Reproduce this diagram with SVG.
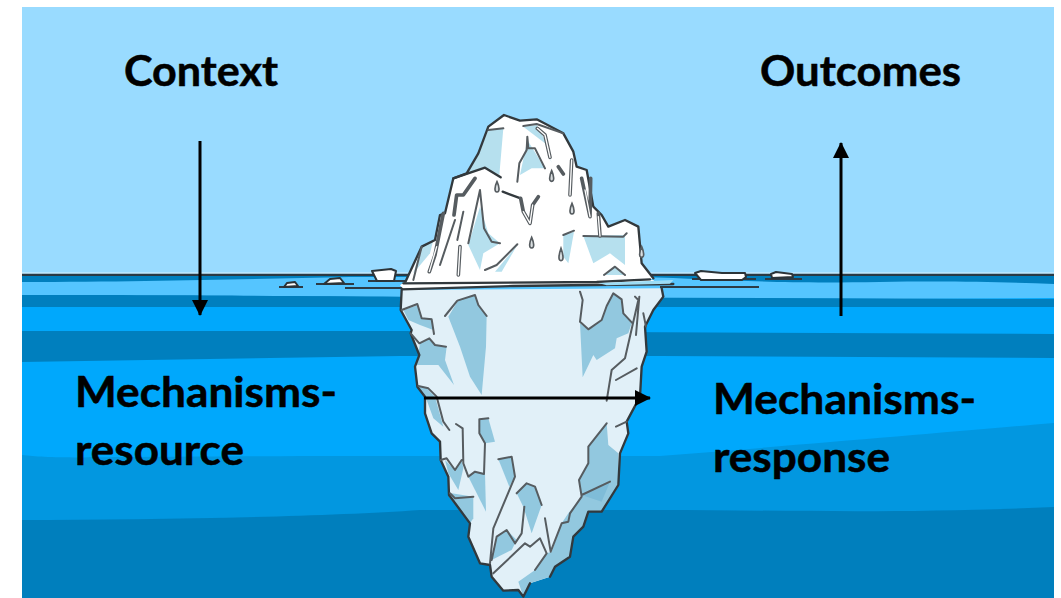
<svg xmlns="http://www.w3.org/2000/svg" width="1061" height="598" viewBox="0 0 1061 598">
<defs>
<marker id="ah" markerUnits="userSpaceOnUse" markerWidth="16" markerHeight="16" refX="15" refY="8" orient="auto"><path d="M0,0 L16,8 L0,16 Z" fill="#000"/></marker>
</defs>
<style>
text{font-family:Lato,"Open Sans",sans-serif;font-weight:700;font-size:42px;fill:#000;stroke:#000;stroke-width:.5px}
.l{fill:none;stroke:#32393d;stroke-width:7;stroke-linejoin:round;stroke-linecap:round}
.g{fill:none;stroke:#565c60;stroke-width:6;stroke-linejoin:round;stroke-linecap:round}
.dr{fill:none;stroke:#565c60;stroke-width:11;stroke-linejoin:round;stroke-linecap:round}
.dw{fill:none;stroke:#fff;stroke-width:4;stroke-linejoin:round;stroke-linecap:round}
.s{fill:#b6e0ee}
.u{fill:#92c8df}
.d{fill:#d9dee0;stroke:#565c60;stroke-width:5}
.f{fill:#fff;stroke:#2c3438;stroke-width:2;stroke-linejoin:round}
.w{stroke:#2c3b45;stroke-width:2;fill:none}
.c{fill:none;stroke:#000;stroke-width:3;marker-end:url(#ah)}
</style>
<rect width="1061" height="598" fill="#fff"/>
<g id="scene">
<rect x="22" y="7" width="1032" height="268" fill="#99dbff"/>
<rect x="22" y="274" width="1032" height="324" fill="#00a8fc"/>
<path d="M22,276 H1054 V298 C950,296 880,296 840,298 H22 Z" fill="#007fbe"/>
<path d="M22,282 C150,282 250,279 350,277 H640 C720,279 760,284 880,282 C950,281 1000,282 1054,284 V298 L900,299 L22,295 Z" fill="#55c5ff"/>
<path d="M22,295 C200,295 300,296 400,297 L1054,299 V307 H22 Z" fill="#007fbe"/>
<path d="M22,331 H400 L1054,334 V358 L660,356 H400 L22,362 Z" fill="#007fbe"/>
<path d="M22,455 C40,457 60,458 120,457 C250,456 350,456 420,456 H660 C800,445 950,432 1054,423 V598 H22 Z" fill="#0297e0"/>
<path d="M22,520 C150,520 320,517 420,510 H660 C780,510 900,514 1054,507 V598 H22 Z" fill="#007fbd"/>
<rect x="22" y="273.500" width="1032" height="2.500" fill="#2b3a44"/>
<rect x="22" y="272.500" width="1032" height="1" fill="#d8f2ff"/>
</g>
<g id="floes">
<path class="w" d="M345,288 H420 M660,287 H759"/>
<path class="w" d="M279,287 H303 M316,284 H354 M368,281 H420 M692,279 H756 M765,279 H802"/>
<path class="f" d="M284,287 L287,283 L295,282 L298,286 Z"/>
<path class="f" d="M324,284 L330,279 L340,278 L344,283 Z"/>
<path class="f" d="M372,271 L391,269 L396,271 L394,281 L377,281 Z"/>
<path class="f" d="M695,273 L701,271 L722,273 L745,273 L746,277 L742,280 L701,280 Z"/>
<path class="f" d="M771,274 L776,272 L792,274 L793,277 L772,278 Z"/>
</g>
<g id="iceberg-below" transform="translate(380,280) scale(.33333)">
<path d="M65,30 L62,90 L95,150 L92,160 L118,225 L105,260 L112,320 L135,350 L135,400 L155,460 L180,485 L182,540 L205,590 L207,645 L270,730 L265,770 L300,850 L330,855 L335,890 L370,932 L415,930 L430,950 L450,910 L510,890 L525,860 L570,830 L580,770 L610,740 L625,695 L665,695 L715,615 L720,520 L745,460 L740,425 L780,350 L785,260 L800,215 L795,140 L820,90 L850,50 L845,25 Z" fill="#e1f0f8"/>
<path class="u" d="M205,110 L235,60 L285,45 L295,75 L320,105 L318,200 L305,345 L270,290 L240,200 Z"/>
<path class="u" d="M70,90 L115,75 L125,115 L155,115 L160,150 L120,135 L85,120 Z"/>
<path class="u" d="M120,190 L150,175 L165,195 L200,200 L195,240 L222,315 L175,255 L110,255 Z"/>
<path class="u" d="M600,130 L625,150 L665,120 L680,75 L700,40 L725,60 L730,100 L755,130 L745,160 L710,175 L705,205 L650,240 L640,225 L608,292 Z"/>
<path class="u" d="M115,318 L140,325 L165,350 L190,440 L160,415 L140,360 Z"/>
<path class="u" d="M298,418 L325,415 L345,485 L315,490 L298,460 Z"/>
<path class="u" d="M355,538 L395,530 L405,590 L388,620 Z"/>
<path class="u" d="M195,540 L225,570 L245,540 L250,565 L235,630 L205,580 Z"/>
<path class="u" d="M265,590 L285,575 L315,580 L318,695 Z"/>
<path class="u" d="M215,640 L280,650 L280,715 L270,730 L207,650 Z"/>
<path class="u" d="M410,640 L440,610 L465,620 L485,675 L455,760 L430,680 Z"/>
<path class="u" d="M335,840 L350,770 L380,750 L410,780 L395,810 Z"/>
<path class="u" d="M625,500 L680,430 L685,495 L715,520 L715,615 L665,695 L625,695 L610,740 L580,770 L570,830 L525,860 L510,890 L450,910 L430,950 L415,905 L465,870 L500,820 L515,815 L545,730 L565,700 L605,650 L597,600 L625,550 Z"/>
<path d="M605,645 L690,605 L665,665 Z" fill="#7fbcd8"/>
<path class="l" d="M65,30 L62,90 L95,150 L92,160 L118,225 L105,260 L112,320 L135,350 L135,400 L155,460 L180,485 L182,540 L205,590 L207,645 L270,730 L265,770 L300,850 L330,855 L335,890 L370,932 L415,930 L430,950 L450,910 M510,890 L525,860 L570,830 L580,770 L610,740 L625,695 L665,695 L715,615 L720,520 L745,460 L740,425 L780,350 L785,260 L800,215 L795,140 L820,90 L850,50 L845,25"/>
<path class="g" d="M195,108 L232,62 L285,45 L295,75 L320,108 M65,90 L112,72 L125,115 L155,118 L162,162 M92,160 L118,190 L148,175 L165,195 L198,200 M600,35 L608,60 L600,125 L625,148 L665,120 L680,78 L700,40 L725,58 L730,100 L758,130 M778,50 L768,165 M765,50 L775,60 L760,125 L735,235 L695,270 L680,362 M708,300 L770,265 M790,100 L798,140 M115,318 L145,325 L170,350 L190,425 L208,450 M228,432 L248,445 L250,550 L265,590 L285,575 L312,582 L315,490 L298,460 L298,418 L325,415 M182,540 L200,535 L225,570 L245,540 M210,640 L225,655 L280,650 M355,538 L395,530 L405,590 L340,745 L330,850 M410,640 L440,610 L465,620 L485,675 M433,680 L425,760 L405,790 L380,750 L350,770 L335,840 M340,880 L435,790 L450,800 L480,775 L500,820 L465,870 M495,715 L512,815 L545,730 L565,725 L570,700 L605,650 L597,600 L625,550 L625,500 L680,430 M605,645 L690,605 M708,440 L740,425"/>
</g>
<g id="iceberg-above" transform="translate(380,100) scale(.33333)">
<path d="M75,548 L125,440 L165,420 L180,345 L195,340 L220,235 L260,220 L295,160 L325,80 L372,45 L420,62 L470,58 L550,100 L580,155 L590,200 L620,210 L640,320 L665,345 L685,380 L735,360 L775,380 L785,490 L820,535 L800,545 L200,548 Z" fill="#fff"/>
<path class="s" d="M262,220 L295,165 L325,90 L370,85 L358,225 L315,205 Z"/>
<path class="s" d="M430,80 L470,75 L500,130 L515,190 L495,130 Z"/>
<path class="s" d="M420,225 L442,120 L495,205 L455,205 Z"/>
<path class="s" d="M265,435 L300,320 L325,400 L360,430 L310,460 L300,510 Z"/>
<path class="s" d="M610,408 L735,405 L735,495 L690,460 L640,490 Z"/>
<path class="s" d="M550,405 L582,395 L565,490 L550,470 Z"/>
<path class="s" d="M345,515 L412,435 L365,515 Z"/>
<path class="s" d="M672,525 L705,500 L735,525 Z"/>
<path class="s" d="M160,420 L125,440 L100,520 L150,460 Z"/>
<path class="l" d="M75,548 L125,440 L165,420 L180,345 L195,340 L220,235 L260,220 L295,160 L325,80 L372,45 L420,62 L470,58 L550,100 L580,155 L590,200 L620,210 L640,320 L665,345 L685,380 L735,360 L775,380 L785,490 L820,535"/>
<path class="l" d="M220,235 L315,203 L362,232 M368,275 L422,295"/>
<path class="g" d="M325,90 L370,85 M430,78 L470,72 L550,100 M412,245 L418,190 L440,150 L442,110 L445,145 L465,145 L495,205 M550,405 L582,392 M610,408 L730,410 L740,400 M265,430 L300,270 L312,385 L335,425 L360,430 M315,510 L350,495 L412,433 M250,335 L232,420 M225,360 L180,495 M672,525 L705,500 L735,525 M125,440 L100,540"/>
<path class="dr" d="M472,85 L495,105 L510,172 M535,200 L550,222 M575,180 L570,285 M605,235 L630,350 L632,235 M655,340 L660,408 M422,295 L430,335 L450,370 L458,315 L475,290 M285,235 L250,285 L230,285 L222,345 M240,440 L235,525 M190,340 L165,465 L148,515"/>
<path class="dw" d="M472,85 L495,105 L510,172 M575,180 L570,285 M615,270 L630,350 M430,335 L450,370 L458,315 M240,440 L235,525 M170,440 L148,515 M655,350 L660,408"/>
<path class="d" d="M351,245 C358,260 360,276 351,276 C342,276 344,260 351,245 Z M515,212 C522,228 524,244 515,244 C506,244 508,228 515,212 Z M576,310 C583,326 585,342 576,342 C567,342 569,326 576,310 Z M455,412 C462,428 464,444 455,444 C446,444 448,428 455,412 Z M543,445 C550,465 552,482 543,482 C534,482 536,465 543,445 Z M785,440 C792,456 794,472 785,472 C776,472 778,456 785,440 Z"/>
<path d="M70,548 L820,540 L830,552 L70,566 L60,556 Z" fill="#fff"/>
<path class="l" d="M70,550 L650,546 L810,538 M66,568 L400,558 L880,552"/>
<path d="M655,549 L880,540 L870,551 L680,556 Z" fill="#9ddcf5"/>
</g>
<g id="connectors">
<path class="c" d="M200,141 V315"/>
<path class="c" d="M841,316 V143"/>
<path class="c" d="M424,398 H650"/>
</g>
<g id="context"><text x="124" y="86" textLength="154" lengthAdjust="spacingAndGlyphs">Context</text></g>
<g id="outcomes"><text x="760" y="86" textLength="201" lengthAdjust="spacingAndGlyphs">Outcomes</text></g>
<g id="mechanisms-resource"><text x="75" y="407" textLength="262" lengthAdjust="spacingAndGlyphs">Mechanisms-</text><text x="75" y="465" textLength="169" lengthAdjust="spacingAndGlyphs">resource</text></g>
<g id="mechanisms-response"><text x="713" y="414" textLength="263" lengthAdjust="spacingAndGlyphs">Mechanisms-</text><text x="713" y="472" textLength="177" lengthAdjust="spacingAndGlyphs">response</text></g>
</svg>
